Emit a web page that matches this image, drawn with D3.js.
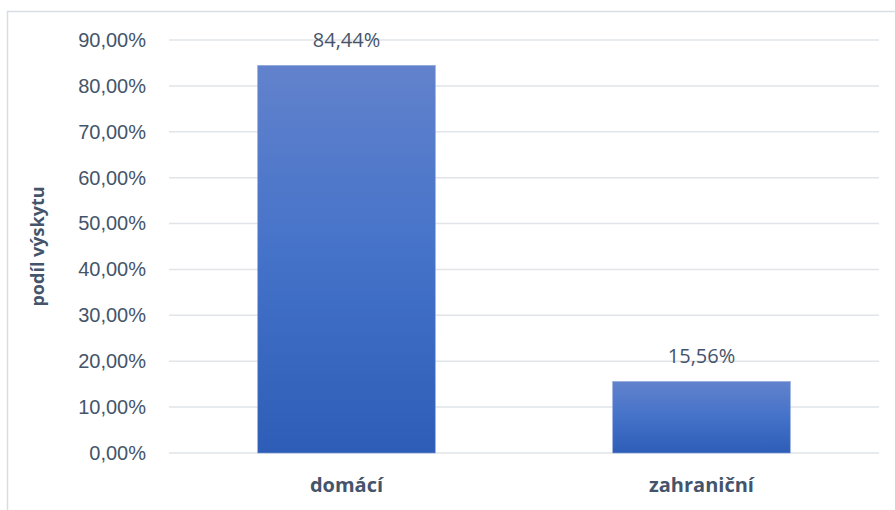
<!DOCTYPE html>
<html>
<head>
<meta charset="utf-8">
<script src="https://cdn.jsdelivr.net/npm/d3@7"></script>
<style>
  body { margin: 0; background: #fff; }
  svg { display: block; font-family: "Open Sans", "Liberation Sans", sans-serif; }
</style>
</head>
<body>
<svg id="chart"></svg>
<script>
var categories = ["domácí", "zahraniční"];
var values = [84.44, 15.56];
var yTicks = [0, 10, 20, 30, 40, 50, 60, 70, 80, 90];

var W = 895, H = 510;
var margin = {left: 169, right: 16, top: 40, bottom: 57};

var svg = d3.select("#chart").attr("width", W).attr("height", H);

// frame
svg.append("rect")
    .attr("x", 7.5).attr("y", 11.5)
    .attr("width", 900).attr("height", 600)
    .attr("fill", "none").attr("stroke", "#d9dde3").attr("stroke-width", 1.5);

var defs = svg.append("defs");
var grad = defs.append("linearGradient").attr("id", "barGrad")
    .attr("x1", 0).attr("y1", 0).attr("x2", 0).attr("y2", 1);
grad.append("stop").attr("offset", "0%").attr("stop-color", "#6282cc");
grad.append("stop").attr("offset", "50%").attr("stop-color", "#4472c9");
grad.append("stop").attr("offset", "100%").attr("stop-color", "#2e5db7");

var x = d3.scaleBand()
    .domain(categories)
    .range([margin.left, W - margin.right])
    .paddingInner(0.5)
    .paddingOuter(0.25);

var y = d3.scaleLinear()
    .domain([0, 90])
    .range([H - margin.bottom, margin.top]);

//网格线
svg.append("g").selectAll("line").data(yTicks).enter().append("line")
    .attr("x1", margin.left).attr("x2", W - margin.right)
    .attr("y1", function (d) { return y(d); })
    .attr("y2", function (d) { return y(d); })
    .attr("stroke", "#e1e4e8").attr("stroke-width", 1.5);

// y轴
var yAxis = svg.append("g")
    .attr("transform", "translate(" + (margin.left - 23) + ",0)")
    .call(d3.axisLeft(y).tickValues(yTicks).tickSize(0).tickPadding(0)
        .tickFormat(function (d) { return d.toFixed(2).replace(".", ",") + "%"; }));
yAxis.select(".domain").remove();
yAxis.selectAll("text")
    .attr("fill", "#44546a").style("font-size", "20px");

// 柱子
svg.append("g").selectAll("rect").data(values).enter().append("rect")
    .attr("x", function (d, i) { return x(categories[i]); })
    .attr("y", function (d) { return y(d); })
    .attr("width", x.bandwidth())
    .attr("height", function (d) { return y(0) - y(d); })
    .attr("fill", "url(#barGrad)")
    .attr("stroke", "#7f9bd8").attr("stroke-width", 0.6);

// 数据标签
svg.append("g").selectAll("text").data(values).enter().append("text")
    .attr("x", function (d, i) { return x(categories[i]) + x.bandwidth() / 2; })
    .attr("y", function (d) { return y(d) - 19; })
    .attr("text-anchor", "middle")
    .attr("fill", "#44546a").style("font-size", "20px")
    .text(function (d) { return d.toFixed(2).replace(".", ",") + "%"; });

// x轴标签
svg.append("g").selectAll("text").data(categories).enter().append("text")
    .attr("x", function (d) { return x(d) + x.bandwidth() / 2; })
    .attr("y", H - margin.bottom + 39)
    .attr("text-anchor", "middle")
    .attr("fill", "#44546a").style("font-size", "20px").style("font-weight", "bold")
    .text(function (d) { return d; });

// 轴标题
svg.append("text")
    .attr("transform", "translate(44," + y(45) + ") rotate(-90)")
    .attr("text-anchor", "middle")
    .attr("fill", "#44546a").style("font-size", "18px").style("font-weight", "bold")
    .text("podíl výskytu");
</script>
</body>
</html>
